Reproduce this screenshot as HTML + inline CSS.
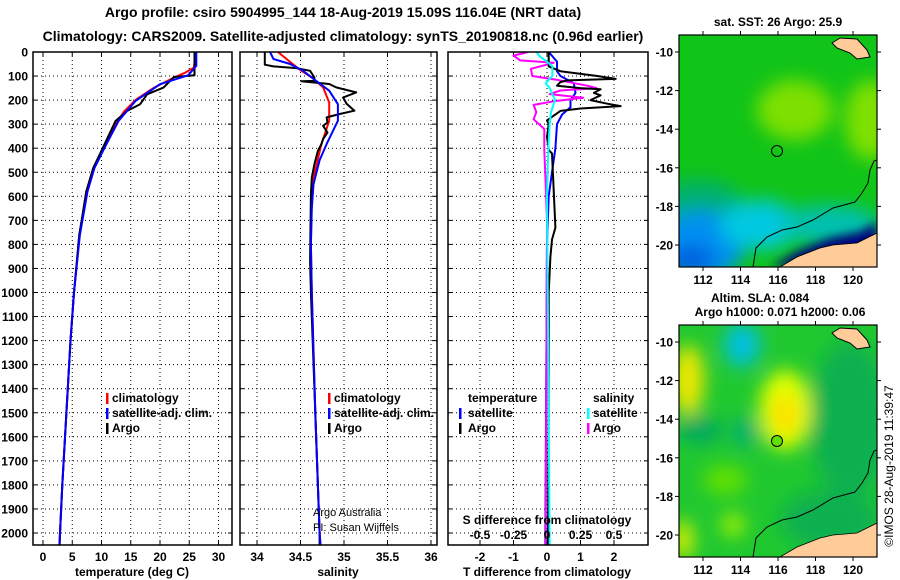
<!DOCTYPE html>
<html><head><meta charset="utf-8"><style>
body{margin:0;background:#fff;}
svg{display:block;font-family:"Liberation Sans",Arial,sans-serif;}
.b{font-weight:bold;}
</style></head><body>
<svg id="chart" width="900" height="580" viewBox="0 0 900 580" xmlns="http://www.w3.org/2000/svg">
<defs>
<clipPath id="m1"><rect x="679" y="35" width="198" height="232"/></clipPath>
<clipPath id="m2"><rect x="679" y="325" width="198" height="232"/></clipPath>
<clipPath id="p1"><rect x="33" y="52" width="199" height="493"/></clipPath>
<clipPath id="p2"><rect x="240" y="52" width="197" height="493"/></clipPath>
<clipPath id="p3"><rect x="448" y="52" width="200" height="493"/></clipPath>
<filter id="bl" x="-50%" y="-50%" width="200%" height="200%"><feGaussianBlur stdDeviation="9"/></filter>
<filter id="bl2" x="-50%" y="-50%" width="200%" height="200%"><feGaussianBlur stdDeviation="5"/></filter>
</defs>
<text class="b" x="343" y="17" font-size="14" text-anchor="middle">Argo profile: csiro 5904995_144 18-Aug-2019 15.09S 116.04E (NRT data)</text>
<text class="b" x="343" y="41" font-size="14" text-anchor="middle">Climatology: CARS2009. Satellite-adjusted climatology: synTS_20190818.nc (0.96d earlier)</text>
<g id="panels"></g>
<!-- top map -->
<g clip-path="url(#m1)">
<rect x="679" y="35" width="198" height="232" fill="#10c418"/>
<g filter="url(#bl)">
<ellipse cx="795" cy="110" rx="38" ry="30" fill="#7ee000"/>
<ellipse cx="870" cy="120" rx="25" ry="40" fill="#80e000"/>
<ellipse cx="700" cy="200" rx="40" ry="20" fill="#00b070"/>
<ellipse cx="700" cy="245" rx="45" ry="35" fill="#0090f0"/>
<ellipse cx="760" cy="225" rx="40" ry="25" fill="#00c8e0"/>
<ellipse cx="830" cy="225" rx="50" ry="20" fill="#00c0b0"/>
<ellipse cx="690" cy="260" rx="25" ry="15" fill="#0060e0"/>
</g>
<polygon filter="url(#bl2)" points="770,267 800,250 830,238 860,232 877,222 877,267" fill="#000080"/>
<polygon points="780,267 797,257 820,248 833,245 857,243 877,233 877,267" fill="#ffcc99" stroke="#000" stroke-width="0.8"/>
<polygon points="832,43 840,38 857,39 867,50 870,57 857,59 850,53 837,48" fill="#ffcc99" stroke="#000" stroke-width="1"/>
<polyline points="753,267 756,248 767,237 782,230 797,227 813,220 833,208 855,202 862,193 868,183 870,170 874,161 877,160" fill="none" stroke="#000" stroke-width="1"/>
<circle cx="777" cy="151" r="5.5" fill="none" stroke="#000" stroke-width="1"/>
</g>
<rect x="679" y="35" width="198" height="232" fill="none" stroke="#000" stroke-width="1.2"/>
<text class="b" x="778" y="26" font-size="12" text-anchor="middle">sat. SST: 26 Argo: 25.9</text>
<!-- bottom map -->
<g clip-path="url(#m2)">
<rect x="679" y="325" width="198" height="232" fill="#20c830"/>
<g filter="url(#bl)">
<ellipse cx="850" cy="420" rx="40" ry="80" fill="#10b050"/>
<ellipse cx="830" cy="520" rx="50" ry="30" fill="#10b050"/>
<ellipse cx="785" cy="410" rx="26" ry="40" fill="#e0ff00"/>
<ellipse cx="785" cy="415" rx="14" ry="20" fill="#ffe000"/>
<ellipse cx="688" cy="380" rx="16" ry="35" fill="#f0e800"/>
<ellipse cx="742" cy="345" rx="18" ry="22" fill="#00c0e0"/>
<ellipse cx="700" cy="430" rx="22" ry="14" fill="#00a860"/>
<ellipse cx="745" cy="432" rx="14" ry="14" fill="#00b070"/>
<ellipse cx="725" cy="480" rx="22" ry="15" fill="#60e000"/>
<ellipse cx="733" cy="525" rx="12" ry="12" fill="#a0f000"/>
<ellipse cx="683" cy="540" rx="10" ry="20" fill="#e0f000"/>
</g>
<polygon points="780,557 797,547 820,538 833,535 857,533 877,523 877,557" fill="#ffcc99" stroke="#000" stroke-width="0.8"/>
<polygon points="832,333 840,328 857,329 867,340 870,347 857,349 850,343 837,338" fill="#ffcc99" stroke="#000" stroke-width="1"/>
<polyline points="753,557 756,538 767,527 782,520 797,517 813,510 833,498 855,492 862,483 868,473 870,460 874,451 877,450" fill="none" stroke="#000" stroke-width="1"/>
<circle cx="777" cy="441" r="5.5" fill="#60e000" stroke="#000" stroke-width="1"/>
</g>
<rect x="679" y="325" width="198" height="232" fill="none" stroke="#000" stroke-width="1.2"/>
<text class="b" x="760" y="302" font-size="12" text-anchor="middle">Altim. SLA: 0.084</text>
<text class="b" x="780" y="316" font-size="12" text-anchor="middle">Argo h1000: 0.071 h2000: 0.06</text>
<text x="893" y="466" font-size="12" text-anchor="middle" transform="rotate(-90 893 466)">©IMOS 28-Aug-2019 11:39:47</text>
<g id="maps"></g>
</svg>
<script>
// ---- data ----
const depthTicks=[0,100,200,300,400,500,600,700,800,900,1000,1100,1200,1300,1400,1500,1600,1700,1800,1900,2000];
const tTicks=[0,5,10,15,20,25,30];
const sTicks=[34,34.5,35,35.5,36];
const dTTicks=[-2,-1,0,1,2];
const dSTicks=[-0.5,-0.25,0,0.25,0.5];
const dSTickLabels=["-0.5","-0.25","0","0.25","0.5"];
const latTicks=[-10,-12,-14,-16,-18,-20];
const lonTicks=[112,114,116,118,120];

const tempClimDepth=[0,65,85,106,148,198,246,302,385,482,580,677,760,1000,1200,1500,1800,2000,2050];
const tempClim=[26.1,25.8,24.4,22.4,19.0,15.9,13.9,12.4,10.6,8.6,7.4,6.8,6.2,5.3,4.7,4.0,3.3,2.9,2.8];
const tempSatDepth=[0,58,97,134,204,287,385,482,580,760,1000,1200,1500,1800,2000,2050];
const tempSat=[26.2,26.2,24.8,20.0,15.8,12.9,10.8,8.8,7.6,6.3,5.3,4.7,4.0,3.3,2.9,2.8];
const tempArgoDepth=[0,97,104,148,176,217,245,287,385,482,580,760,1000,1200,1500,1800,2000,2050];
const tempArgo=[25.9,25.9,22.4,20.6,17.8,16.6,14.4,12.4,10.5,8.6,7.4,6.2,5.3,4.7,4.0,3.3,2.9,2.85];

const salClimDepth=[0,50,78,106,147,210,286,383,522,600,800,1000,1500,2000,2050];
const salClim=[34.24,34.41,34.51,34.63,34.76,34.83,34.83,34.74,34.65,34.63,34.62,34.63,34.67,34.72,34.73];
const salSatDepth=[0,29,50,78,106,161,217,286,330,383,450,550,650,800,1000,1500,2000,2050];
const salSat=[34.15,34.19,34.38,34.53,34.63,34.83,34.93,34.93,34.87,34.80,34.72,34.65,34.63,34.62,34.63,34.67,34.72,34.73];
const salArgoDepth=[0,53,60,67,78,106,120,122,133,147,168,189,215,244,258,272,293,307,335,362,383,411,467,522,592,870,1000,1500,2000,2050];
const salArgo=[34.09,34.09,34.19,34.45,34.61,34.66,34.66,34.51,34.83,34.91,35.14,34.99,35.03,35.12,34.95,34.80,34.81,34.76,34.81,34.76,34.74,34.70,34.66,34.63,34.62,34.61,34.62,34.67,34.72,34.72];

const dTArgoDepth=[0,60,80,100,112,118,125,140,150,155,170,180,200,215,225,235,245,265,285,300,353,408,422,575,730,780,852,1000,1500,2050];
const dTArgo=[0.05,0.05,0.4,1.5,2.05,0.6,0.4,0.3,1.0,1.6,1.4,1.6,1.3,1.8,2.2,1.0,0.4,0.2,0.0,0.05,0.0,0.05,0.15,0.2,0.25,0.15,0.1,0.05,0.05,0.03];
const dTSatDepth=[0,40,80,100,130,170,200,230,260,300,400,500,600,800,2050];
const dTSat=[0.05,0.3,0.3,0.4,0.8,0.85,0.7,0.7,0.45,0.3,0.25,0.15,0.05,0.0,-0.05];
const dSArgoDepth=[0,15,35,45,70,100,115,140,150,160,175,190,205,220,250,280,320,410,550,700,2050];
const dSArgo=[-0.14,-0.25,-0.2,0.05,-0.12,-0.11,0.07,0.3,0.37,0.1,0.02,0.27,0.05,-0.1,-0.08,-0.1,-0.02,-0.02,-0.01,0.0,-0.01];
const dSSatDepth=[0,20,40,60,100,130,150,200,250,300,400,600,2050];
const dSSat=[-0.08,-0.05,0.0,0.04,0.04,-0.01,0.02,0.06,0.03,0.02,0.01,0.0,0.02];

// ---- drawing ----
const NS="http://www.w3.org/2000/svg";
const root=document.getElementById('panels');
function el(tag,attrs,parent){const e=document.createElementNS(NS,tag);for(const k in attrs)e.setAttribute(k,attrs[k]);(parent||root).appendChild(e);return e;}
const Y0=52,Y1=545;
function yD(d){return Y0+d*0.2405;}
function lin(v0,p0,v1,p1){return v=>p0+(v-v0)*(p1-p0)/(v1-v0);}
const xT=lin(0,43,30,218.5);
const xS=lin(34,257,36,431);
const xdT=lin(0,547,1,580.5);
const xdS=lin(0,547,0.25,580.5);

function frame(x0,x1,name,vticks,xs){
  const g=el('g',{});
  
  
  depthTicks.forEach(d=>{if(d>0){const l=el('line',{x1:x0,x2:x1,y1:yD(d),y2:yD(d),stroke:'#000','stroke-width':1,'stroke-dasharray':'1,3'},g);
    el('line',{x1:x0,x2:x0+4,y1:yD(d),y2:yD(d),stroke:'#000'},g);el('line',{x1:x1-4,x2:x1,y1:yD(d),y2:yD(d),stroke:'#000'},g);}});
  vticks.forEach(v=>{const x=xs(v);const l=el('line',{x1:x,x2:x,y1:Y0,y2:Y1,stroke:'#000','stroke-width':1,'stroke-dasharray':'1,3'},g);
    el('line',{x1:x,x2:x,y1:Y1-4,y2:Y1,stroke:'#000'},g);el('line',{x1:x,x2:x,y1:Y0,y2:Y0+4,stroke:'#000'},g);});
  return g;
}
function box(x0,x1,name){const r=el('rect',{x:x0,y:Y0,width:x1-x0,height:Y1-Y0,fill:'none',stroke:'#000','stroke-width':1.5});}
function line(ds,vs,xs,color,w,clip,name){
  const pts=ds.map((d,i)=>xs(vs[i]).toFixed(1)+','+yD(d).toFixed(1)).join(' ');
  const p=el('polyline',{points:pts,fill:'none',stroke:color,'stroke-width':w,'clip-path':'url(#'+clip+')','stroke-linejoin':'round'});
  
  
}
function txt(x,y,s,attrs,name,parent){const t=el('text',Object.assign({x:x,y:y,'font-size':12},attrs||{}),parent);t.textContent=s;return t;}

depthTicks.forEach(d=>{txt(28,yD(d)+4.5,String(d),{'text-anchor':'end',class:'b'},'y-tick-label');});

// panel 1
frame(33,232,'temperature-panel',tTicks,xT);
line(tempClimDepth,tempClim,xT,'#f00',2,'p1','temp-clim-line');
line(tempArgoDepth,tempArgo,xT,'#000',2,'p1','temp-argo-line');
line(tempSatDepth,tempSat,xT,'#00f',2,'p1','temp-sat-line');
box(33,232,'temperature-frame');
tTicks.forEach(v=>txt(xT(v),561,String(v),{'text-anchor':'middle',class:'b'},'x-tick-label'));
txt(132,576,'temperature (deg C)',{'text-anchor':'middle',class:'b'},'x-axis-title-temperature');

// panel 2
frame(240,437,'salinity-panel',sTicks,xS);
line(salClimDepth,salClim,xS,'#f00',2,'p2','sal-clim-line');
line(salArgoDepth,salArgo,xS,'#000',2,'p2','sal-argo-line');
line(salSatDepth,salSat,xS,'#00f',2,'p2','sal-sat-line');
box(240,437,'salinity-frame');
sTicks.forEach(v=>txt(xS(v),561,String(v),{'text-anchor':'middle',class:'b'},'x-tick-label'));
txt(338,576,'salinity',{'text-anchor':'middle',class:'b'},'x-axis-title-salinity');
txt(313,516,'Argo Australia',{'font-size':11},'credit-line-1');
txt(313,531,'PI: Susan Wijffels',{'font-size':11},'credit-line-2');

// panel 3
frame(448,648,'difference-panel',dTTicks,xdT);
line(dTSatDepth,dTSat,xdT,'#00f',2,'p3','dT-sat-line');
line(dSArgoDepth,dSArgo,xdS,'#f0f',2,'p3','dS-argo-line');
line(dTArgoDepth,dTArgo,xdT,'#000',2,'p3','dT-argo-line');
line(dSSatDepth,dSSat,xdS,'#0ff',2,'p3','dS-sat-line');
box(448,648,'difference-frame');
dTTicks.forEach(v=>txt(xdT(v),561,String(v),{'text-anchor':'middle',class:'b'},'x-tick-label'));
dSTicks.forEach((v,i)=>txt(xdS(v),539,dSTickLabels[i],{'text-anchor':'middle',class:'b'},'s-tick-label'));
txt(547,524,'S difference from climatology',{'text-anchor':'middle',class:'b'},'s-axis-title');
txt(547,576,'T difference from climatology',{'text-anchor':'middle',class:'b'},'x-axis-title-tdiff');

// legends
function legItem(mx,tx,y,color,label,name){
  const m=el('rect',{x:mx,y:y-9,width:2.5,height:11,fill:color});
  
  
  txt(tx,y,label,{class:'b'},name);
}
legItem(106,112,402,'#f00','climatology','legend-climatology');
legItem(106,112,417,'#00f','satellite-adj. clim.','legend-satellite-adj');
legItem(106,112,432,'#000','Argo','legend-argo');
legItem(328,334,402,'#f00','climatology','legend2-climatology');
legItem(328,334,417,'#00f','satellite-adj. clim.','legend2-satellite-adj');
legItem(328,334,432,'#000','Argo','legend2-argo');
txt(468,402,'temperature',{class:'b'},'legend-temperature-heading');
legItem(459,468,417,'#00f','satellite','legend-t-satellite');
legItem(459,468,432,'#000','Argo','legend-t-argo');
txt(593,402,'salinity',{class:'b'},'legend-salinity-heading');
legItem(587,593,417,'#0ff','satellite','legend-s-satellite');
legItem(587,593,432,'#f0f','Argo','legend-s-argo');

// map axes
const mroot=document.getElementById('maps');
function lonX(l){return 703+(l-112)*18.75;}
[[35,267,52],[325,557,342]].forEach(([top,bot,l10])=>{
  lonTicks.forEach(l=>{const x=lonX(l);
    el('line',{x1:x,x2:x,y1:bot,y2:bot+4,stroke:'#000'},mroot);
    el('line',{x1:x,x2:x,y1:top-4,y2:top,stroke:'#000'},mroot);
    txt(x,bot+17,String(l),{'text-anchor':'middle',class:'b'},'map-lon-label',mroot);});
  latTicks.forEach(la=>{const y=l10+(-10-la)*19.3;
    el('line',{x1:877,x2:881,y1:y,y2:y,stroke:'#000'},mroot);
    el('line',{x1:675,x2:679,y1:y,y2:y,stroke:'#000'},mroot);
    txt(673,y+4.5,String(la),{'text-anchor':'end',class:'b'},'map-lat-label',mroot);});
});
</script>
</body></html>
